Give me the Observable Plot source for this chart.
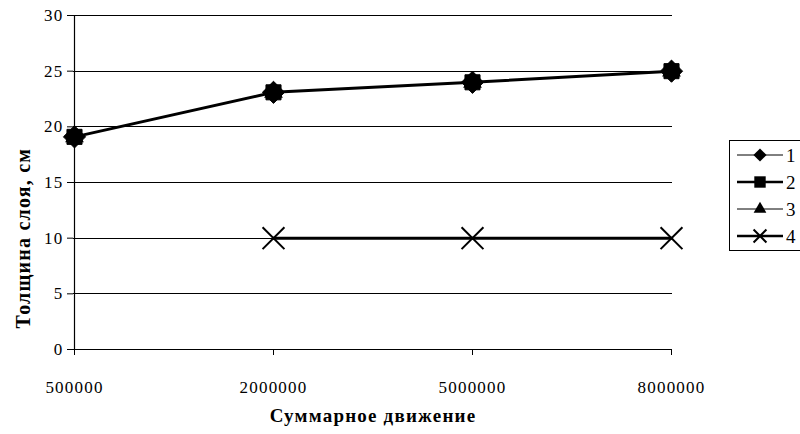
<!DOCTYPE html>
<html>
<head>
<meta charset="utf-8">
<script src="https://cdn.jsdelivr.net/npm/d3@7"></script>
<script src="https://cdn.jsdelivr.net/npm/@observablehq/plot@0.6"></script>
<style>
  html, body { margin: 0; padding: 0; background: white; }
  #wrap { position: relative; width: 800px; height: 434px; overflow: hidden; }
  #legend { position: absolute; left: 729px; top: 140px; }
  svg text { font-family: "Liberation Serif", "Times New Roman", serif; }
</style>
</head>
<body>
<div id="wrap"><div id="chart"></div><div id="legend"></div></div>
<script>
const categories = ["500000", "2000000", "5000000", "8000000"];
const series1 = [19.1, 23.1, 24, 25];
const series2 = [19.1, 23.1, 24, 25];
const series3 = [19.1, 23.1, 24, 25];
const series4 = [null, 10, 10, 10];
const seriesNames = ["1", "2", "3", "4"];
const yTicks = [0, 5, 10, 15, 20, 25, 30];
const xTitle = "Суммарное движение";
const yTitle = "Толщина слоя, см";

const FONT = "Liberation Serif";

const toRows = (vals) => categories.map((c, i) => ({cat: c, v: vals[i]})).filter(d => d.v != null);
const r1 = toRows(series1), r2 = toRows(series2), r3 = toRows(series3), r4 = toRows(series4);

const chart = Plot.plot({
  width: 800,
  height: 434,
  marginLeft: 73,
  marginRight: 128,
  marginTop: 15,
  marginBottom: 85,
  style: {fontFamily: FONT, fontSize: "17px", color: "black", background: "white", letterSpacing: "1.2px"},
  x: {type: "point", domain: categories, padding: 0, label: null},
  y: {domain: [0, 30], label: null},
  marks: [
    Plot.gridY(yTicks, {stroke: "black", strokeOpacity: 1, strokeWidth: 1, shapeRendering: "crispEdges"}),
    Plot.ruleX([categories[0]], {stroke: "black", strokeWidth: 1.2}),
    Plot.ruleY([0], {stroke: "black", strokeWidth: 1.2}),
    Plot.axisY({ticks: yTicks, tickSize: 6, tickPadding: 4, label: null, fontFamily: FONT}),
    Plot.axisX({tickSize: 6, tickPadding: 25, label: null, fontFamily: FONT}),
    Plot.line(r1, {x: "cat", y: "v", stroke: "black", strokeWidth: 1}),
    Plot.line(r2, {x: "cat", y: "v", stroke: "black", strokeWidth: 3}),
    Plot.line(r3, {x: "cat", y: "v", stroke: "black", strokeWidth: 1}),
    Plot.line(r4, {x: "cat", y: "v", stroke: "black", strokeWidth: 3}),
    Plot.dot(r1, {x: "cat", y: "v", symbol: "diamond2", r: 10, fill: "black", stroke: "black", strokeWidth: 1}),
    Plot.dot(r2, {x: "cat", y: "v", symbol: "square", r: 8.5, fill: "black", stroke: "black", strokeWidth: 1}),
    Plot.dot(r3, {x: "cat", y: "v", symbol: "triangle", r: 6, fill: "black", stroke: "black"}),
    Plot.dot(r4, {x: "cat", y: "v", symbol: "times", r: 10, fill: "none", stroke: "black", strokeWidth: 2}),
    Plot.text([xTitle], {frameAnchor: "bottom", dy: 72, fontWeight: "bold", fontSize: 19, fontFamily: FONT, letterSpacing: "0.5px"}),
    Plot.text([yTitle], {frameAnchor: "left", dx: -50, dy: 146, rotate: -90, textAnchor: "start", fontWeight: "bold", fontSize: 20, fontFamily: FONT, letterSpacing: "3px"})
  ]
});
document.getElementById("chart").appendChild(chart);

// reproduce the clipping of the y title seen in the reference
const svgns = "http://www.w3.org/2000/svg";
const svg = d3.select(chart);
const clipId = "ytitle-clip";
svg.append("defs").append("clipPath").attr("id", clipId)
  .append("rect").attr("x", 0).attr("y", 134).attr("width", 60).attr("height", 300);
svg.selectAll("text").filter(function() { return this.textContent === yTitle; })
  .each(function() {
    const g = this.parentNode;
    const wrapper = document.createElementNS(svgns, "g");
    g.parentNode.insertBefore(wrapper, g);
    wrapper.appendChild(g);
    wrapper.setAttribute("clip-path", `url(#${clipId})`);
  });

// legend
const legendSymbols = ["diamond", "square", "triangle", "times"];
const legendWidths = [1, 2.5, 1, 2.5];
const rowH = 27;
const leg = d3.select("#legend").append("svg")
  .attr("width", 90).attr("height", 112);
leg.append("rect").attr("x", 0.5).attr("y", 0.5).attr("width", 85).attr("height", 110)
  .attr("fill", "white").attr("stroke", "black");
seriesNames.forEach((name, i) => {
  const y = 15 + i * rowH;
  const g = leg.append("g").attr("transform", `translate(0,${y})`);
  g.append("line").attr("x1", 8).attr("x2", 54).attr("y1", 0).attr("y2", 0)
    .attr("stroke", "black").attr("stroke-width", legendWidths[i]);
  const sym = {diamond: d3.symbolDiamond2, square: d3.symbolSquare, triangle: d3.symbolTriangle, times: d3.symbolTimes}[legendSymbols[i]];
  const size = {diamond: 110, square: 130, triangle: 70, times: 110}[legendSymbols[i]];
  const p = g.append("path").attr("transform", "translate(31,0)").attr("d", d3.symbol(sym, size)());
  if (legendSymbols[i] === "times") p.attr("fill", "none").attr("stroke", "black").attr("stroke-width", 2);
  else p.attr("fill", "black");
  g.append("text").attr("x", 57).attr("y", 0).attr("dy", "0.35em")
    .attr("font-family", FONT).attr("font-size", 19).text(name);
});
</script>
</body>
</html>
